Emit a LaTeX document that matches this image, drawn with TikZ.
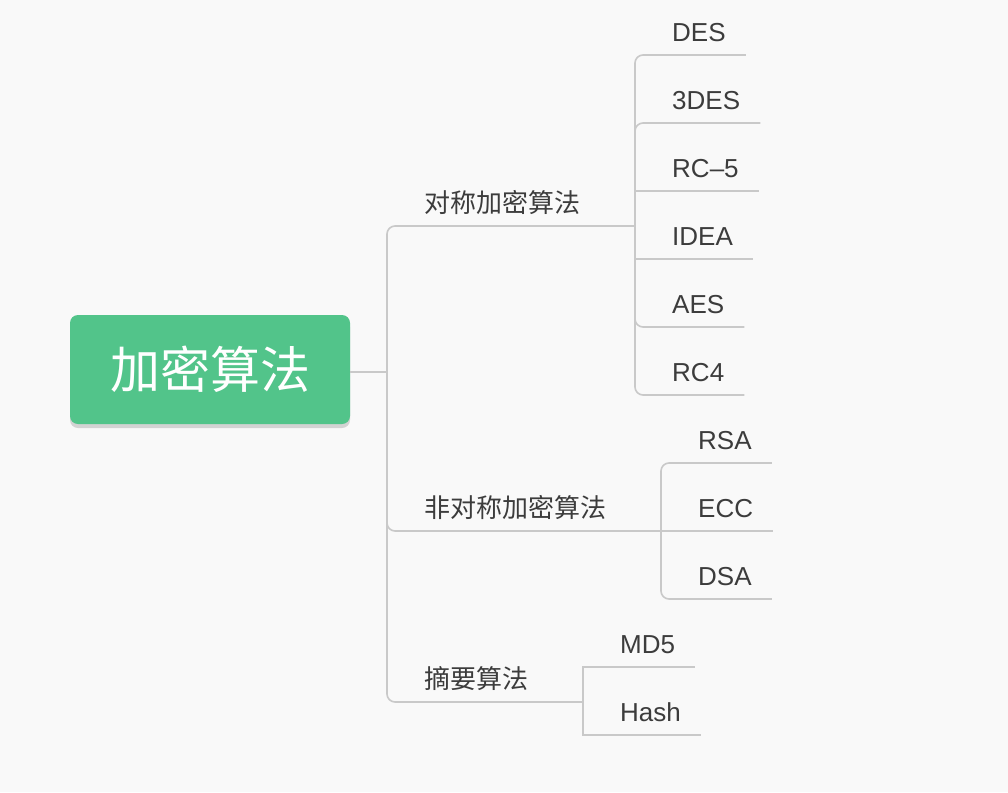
\documentclass[tikz,border=0pt]{standalone}
\usepackage{fontspec}
\setmainfont{Liberation Sans}
\newfontfamily\cjk{Noto Sans CJK SC}
\usetikzlibrary{shadows}
\definecolor{bg}{RGB}{249, 249, 249}
\definecolor{rootgreen}{RGB}{82, 196, 138}
\definecolor{linegray}{RGB}{201, 201, 201}
\definecolor{textgray}{RGB}{60, 60, 60}

\begin{document}
\begin{tikzpicture}[x=1pt, y=-1pt,
  link/.style={draw=linegray, line width=1.6pt},
  elbow/.style={link, rounded corners=8pt},
  rootbox/.style={fill=rootgreen, rounded corners=8pt, minimum width=280pt, minimum height=109pt,
    text=white, font=\cjk\fontsize{50}{58}\selectfont,
    drop shadow={shadow xshift=0pt, shadow yshift=-4pt, fill=black, opacity=0.15}},
  branch/.style={anchor=south west, inner sep=0pt, xshift=37pt, text depth=13.5pt,
    text=textgray, font=\cjk\fontsize{26}{30}\selectfont},
  leaf/.style={anchor=south west, inner sep=0pt, xshift=37pt, text depth=13.7pt,
    text=textgray, font=\fontsize{26}{30}\selectfont}]

\fill[bg] (0, 0) rectangle (1008, 792);

% root
\node[rootbox] (root) at (210, 369.5) {加密算法};
\coordinate (root-j) at (387, 372);
\draw[link] (root-j -| root.east) -- (root-j);

% first level
\node[branch] (sym) at (387, 226) {对称加密算法};
\node[branch] (asym) at (387, 531) {非对称加密算法};
\node[branch] (digest) at (387, 702) {摘要算法};

\coordinate (sym-j) at (635, 226);
\coordinate (asym-j) at (661, 531);
\coordinate (digest-j) at (583, 702);

\draw[elbow] (root-j) |- (sym-j);
\draw[elbow] (root-j) |- (asym-j);
\draw[elbow] (root-j) |- (digest-j);

% symmetric
\node[leaf] (des) at (635, 55) {DES};
\node[leaf] (3des) at (635, 123) {3DES};
\node[leaf] (rc5) at (635, 191) {RC--5};
\node[leaf] (idea) at (635, 259) {IDEA};
\node[leaf] (aes) at (635, 327) {AES};
\node[leaf] (rc4) at (635, 395) {RC4};

\draw[elbow] (sym-j) |- ([xshift=20pt]des.south east);
\draw[elbow] (sym-j) |- ([xshift=20pt]3des.south east);
\draw[link] (sym-j) |- ([xshift=20pt]rc5.south east);
\draw[link] (sym-j) |- ([xshift=20pt]idea.south east);
\draw[elbow] (sym-j) |- ([xshift=20pt]aes.south east);
\draw[elbow] (sym-j) |- ([xshift=20pt]rc4.south east);

% asymmetric
\node[leaf] (rsa) at (661, 463) {RSA};
\node[leaf] (ecc) at (661, 531) {ECC};
\node[leaf] (dsa) at (661, 599) {DSA};

\draw[elbow] (asym-j) |- ([xshift=20pt]rsa.south east);
\draw[link] (asym-j) -- ([xshift=20pt]ecc.south east);
\draw[elbow] (asym-j) |- ([xshift=20pt]dsa.south east);

% digest
\node[leaf] (md5) at (583, 667) {MD5};
\node[leaf] (hash) at (583, 735) {Hash};

\draw[link] (digest-j) |- ([xshift=20pt]md5.south east);
\draw[link] (digest-j) |- ([xshift=20pt]hash.south east);

\end{tikzpicture}
\end{document}
